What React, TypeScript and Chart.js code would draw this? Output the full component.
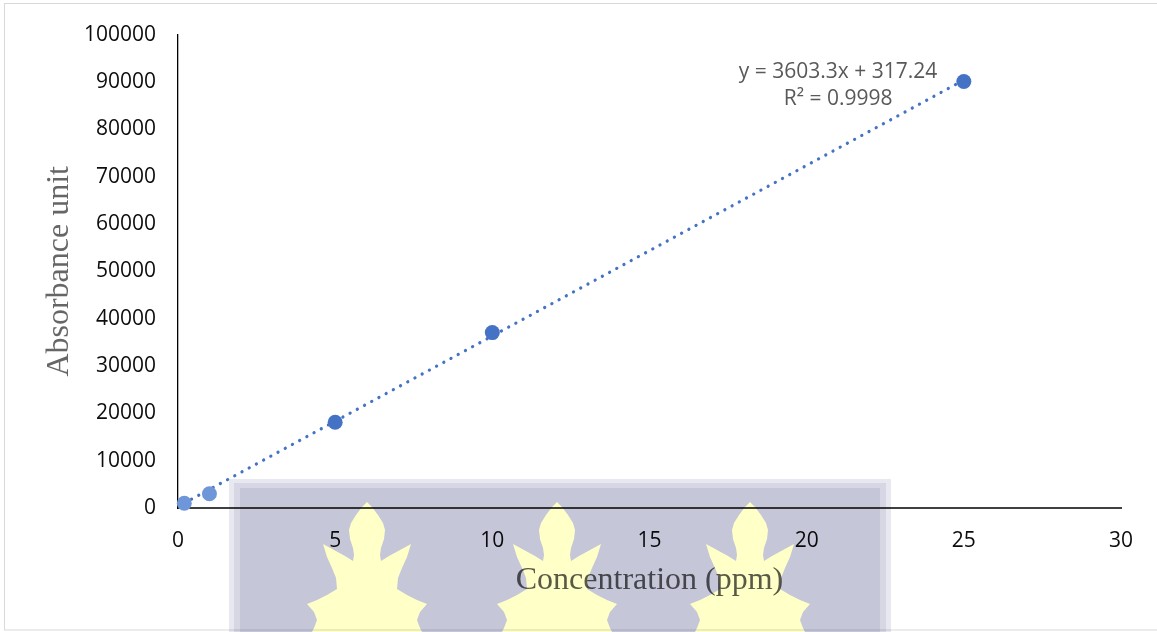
import React, { useEffect, useRef } from "react";
import { Chart, registerables } from "chart.js";

Chart.register(...registerables);

// ---- data ----
const concentration = [0.2, 1, 5, 10, 25];
const absorbance = [1000, 3000, 18100, 37050, 90100];
const trendSlope = 3603.3;
const trendIntercept = 317.24;
const equationLines = ["y = 3603.3x + 317.24", "R² = 0.9998"];
const xTicksMax = 30;
const yTicksMax = 100000;
const xTitle = "Concentration (ppm)";
const yTitle = "Absorbance unit";

const W = 1157;
const H = 632;
const BLUE = "#4472C4";

const flameHalf: [number, number][] = [
  [0, 0], [5, 5], [11, 13], [16, 21], [18, 28], [17, 37], [14, 46], [13, 53],
  [14, 59], [22, 54], [33, 48], [44, 42], [40, 55], [35, 66], [31, 76],
  [30, 87], [40, 93], [50, 98], [60, 102], [53, 110], [50, 118], [53, 126],
  [57, 134], [58, 145],
];

function drawWatermark(chart: any) {
  const off = document.createElement("canvas");
  off.width = W;
  off.height = H;
  const c = off.getContext("2d")!;
  c.fillStyle = "rgb(232,232,240)";
  c.fillRect(229, 479, 662, 160);
  c.fillStyle = "rgb(214,214,228)";
  c.fillRect(234, 483, 652, 160);
  c.fillStyle = "rgb(197,198,216)";
  c.fillRect(240, 488, 640, 160);
  c.fillStyle = "rgb(255,255,200)";
  const centers = [367, 557, 750];
  const tipY = 502;
  centers.forEach((cx) => {
    c.beginPath();
    flameHalf.forEach(([dx, dy], i) => {
      if (i === 0) c.moveTo(cx + dx, tipY + dy);
      else c.lineTo(cx + dx, tipY + dy);
    });
    for (let i = flameHalf.length - 1; i >= 0; i--) {
      const [dx, dy] = flameHalf[i];
      c.lineTo(cx - dx, tipY + dy);
    }
    c.closePath();
    c.fill();
  });
  const ctx = chart.ctx;
  ctx.save();
  ctx.globalCompositeOperation = "multiply";
  ctx.drawImage(off, 0, 0);
  ctx.restore();
}

const decorPlugin = {
  id: "decor",
  beforeDraw(chart: any) {
    const ctx = chart.ctx;
    ctx.save();
    ctx.strokeStyle = "#d9d9d9";
    ctx.lineWidth = 1;
    ctx.strokeRect(4.5, 3.5, 1170, 626.5);
    ctx.restore();
  },
  afterDatasetsDraw(chart: any) {
    const ctx = chart.ctx;
    const xs = chart.scales.x;
    const ys = chart.scales.y;
    const cx = xs.getPixelForValue(21);
    const cy = ys.getPixelForValue(92000);
    ctx.save();
    ctx.fillStyle = "#595959";
    ctx.font = "21px 'Open Sans'";
    ctx.textAlign = "center";
    ctx.textBaseline = "middle";
    equationLines.forEach((line, i) => ctx.fillText(line, cx, cy + i * 27));
    ctx.restore();
  },
  afterDraw(chart: any) {
    drawWatermark(chart);
  },
};

export default function App() {
  const ref = useRef<HTMLCanvasElement | null>(null);

  useEffect(() => {
    if (!ref.current) return;
    const points = concentration.map((x, i) => ({ x, y: absorbance[i] }));
    const xMin = Math.min(...concentration);
    const xMax = Math.max(...concentration);
    const trend = [xMin, xMax].map((x) => ({ x, y: trendSlope * x + trendIntercept }));

    const chart = new Chart(ref.current, {
      type: "scatter",
      data: {
        datasets: [
          {
            label: "Absorbance",
            data: points,
            backgroundColor: (c: any) =>
              c.raw && c.raw.x < 2 ? "#6f96d8" : BLUE,
            borderColor: (c: any) => (c.raw && c.raw.x < 2 ? "#6f96d8" : BLUE),
            pointRadius: 7.5,
            pointBorderWidth: 0,
            showLine: false,
            clip: false,
          } as any,
          {
            label: "Trend",
            data: trend,
            showLine: true,
            borderColor: BLUE,
            borderWidth: 3.2,
            borderDash: [0.1, 8.1],
            borderCapStyle: "round",
            pointRadius: 0,
            fill: false,
            clip: false,
          } as any,
        ],
      },
      options: {
        animation: false,
        responsive: false,
        devicePixelRatio: 1,
        layout: { padding: { top: 33, right: 36, left: 0, bottom: 0 } },
        plugins: {
          legend: { display: false },
          tooltip: { enabled: false },
        },
        scales: {
          x: {
            type: "linear",
            min: 0,
            max: xTicksMax,
            ticks: {
              stepSize: 5,
              color: "#0d0d0d",
              font: { family: "'Open Sans'", size: 21 },
              padding: 20,
              callback: (v: any) => String(v),
            },
            grid: { display: false, drawTicks: false },
            border: { display: true, color: "#404040", width: 2 },
            title: {
              display: true,
              text: xTitle,
              color: "#595959",
              font: { family: "'Liberation Serif'", size: 32, lineHeight: 1 },
              padding: { top: 0, bottom: 35 },
            },
            afterFit: (s: any) => {
              s.height = H - 508;
            },
          },
          y: {
            type: "linear",
            min: 0,
            max: yTicksMax,
            ticks: {
              stepSize: 10000,
              color: "#0d0d0d",
              font: { family: "'Open Sans'", size: 21 },
              padding: 22,
              callback: (v: any) => String(v),
            },
            grid: { display: false, drawTicks: false },
            border: { display: true, color: "#000000", width: 1.3 },
            title: {
              display: true,
              text: yTitle,
              color: "#666666",
              font: { family: "'Liberation Serif'", size: 32, lineHeight: 1 },
              padding: { top: 44, bottom: 0 },
            },
            afterFit: (s: any) => {
              s.width = 178;
            },
          },
        },
      } as any,
      plugins: [decorPlugin],
    });
    return () => chart.destroy();
  }, []);

  return (
    <div style={{ position: "absolute", left: 0, top: 0, width: W, height: H, background: "#fff" }}>
      <canvas ref={ref} width={W} height={H} style={{ display: "block" }} />
    </div>
  );
}
